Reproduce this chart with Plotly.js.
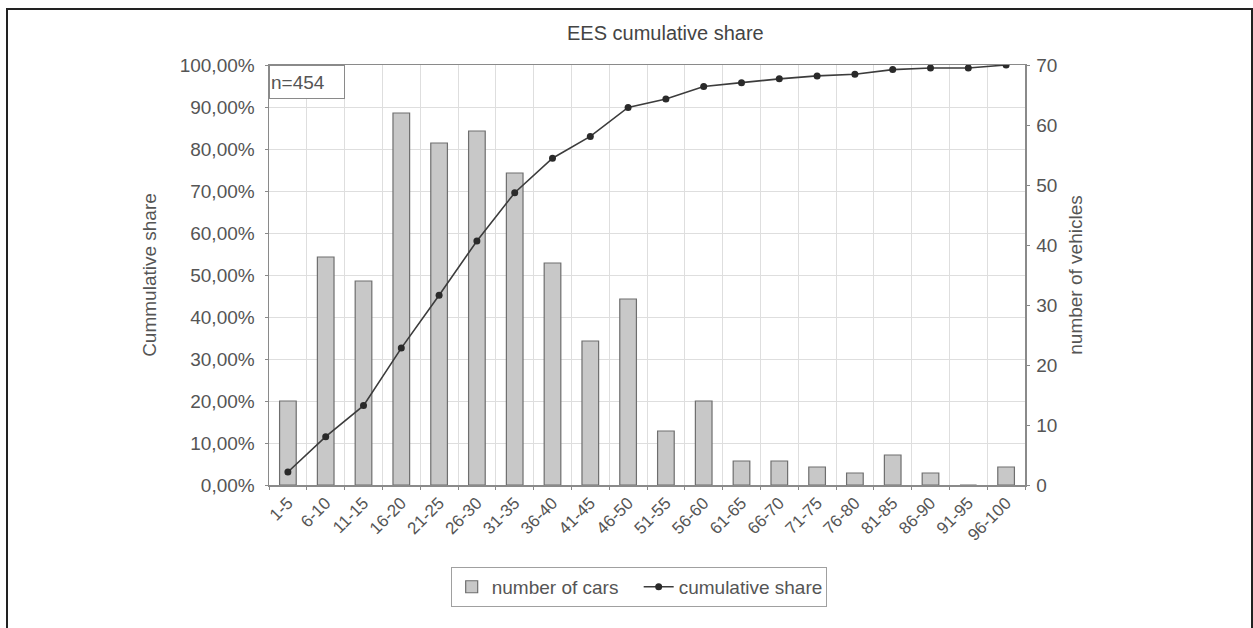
<!DOCTYPE html>
<html>
<head>
<meta charset="utf-8">
<script src="https://cdn.plot.ly/plotly-3.0.1.min.js"></script>
<style>
  html, body { margin: 0; padding: 0; background: #fff; }
  #wrap { position: relative; width: 1253px; height: 628px; overflow: hidden; }
  #chart { position: absolute; left: 0; top: 0; width: 1253px; height: 628px; }
  #frame { position: absolute; left: 6px; top: 8px; width: 1247px; height: 700px;
           box-sizing: border-box; border: 2px solid #222; border-bottom: none; pointer-events: none; }
</style>
</head>
<body>
<div id="wrap">
  <div id="chart"></div>
  <div id="frame"></div>
</div>
<script>
const categories = ["1-5","6-10","11-15","16-20","21-25","26-30","31-35","36-40","41-45","46-50",
                    "51-55","56-60","61-65","66-70","71-75","76-80","81-85","86-90","91-95","96-100"];
const numberOfCars = [14, 38, 34, 62, 57, 59, 52, 37, 24, 31, 9, 14, 4, 4, 3, 2, 5, 2, 0, 3];
const cumulativeShare = [0.031, 0.115, 0.189, 0.326, 0.452, 0.581, 0.696, 0.778, 0.830, 0.899,
                         0.919, 0.949, 0.958, 0.967, 0.974, 0.978, 0.989, 0.993, 0.993, 1.000];
const chartTitle = "EES cumulative share";
const leftTitle = "Cummulative share";
const rightTitle = "number of vehicles";
const sampleNote = "n=454";

const FONT = "Liberation Sans, Arial, sans-serif";
const TXT = "#555555";
const FS = 19;

const traces = [
  {
    type: "bar",
    name: "number of cars",
    x: categories,
    y: numberOfCars,
    xaxis: "x",
    yaxis: "y",
    width: 0.44,
    marker: { color: "#c8c8c8", line: { color: "#6e6e6e", width: 1.2 } },
    hoverinfo: "x+y"
  },
  {
    type: "scatter",
    mode: "lines+markers",
    name: "cumulative share",
    x: categories,
    y: cumulativeShare,
    xaxis: "x",
    yaxis: "y2",
    line: { color: "#3c3c3c", width: 1.6 },
    marker: { color: "#2a2a2a", size: 7, symbol: "circle" }
  }
];

const layout = {
  width: 1253,
  height: 628,
  paper_bgcolor: "rgba(0,0,0,0)",
  plot_bgcolor: "#ffffff",
  separators: ",.",
  font: { family: FONT, size: FS, color: TXT },
  margin: { l: 269, r: 228, t: 65, b: 143, pad: 0 },
  showlegend: true,
  title: {
    text: chartTitle,
    font: { family: FONT, size: 20, color: "#444" },
    xref: "container", yref: "container",
    x: 0.531, y: 0.947, xanchor: "center", yanchor: "middle"
  },
  xaxis: {
    type: "category",
    range: [-0.5, 19.5],
    autorange: false,
    tickson: "boundaries",
    showgrid: true,
    gridcolor: "#dedede",
    gridwidth: 1,
    showline: true,
    linecolor: "#8a8a8a",
    linewidth: 1.5,
    mirror: true,
    ticks: "outside",
    ticklen: 3,
    tickcolor: "#8a8a8a",
    tickangle: -45,
    tickfont: { family: FONT, size: 17, color: TXT },
    zeroline: false,
    automargin: false
  },
  yaxis: {
    side: "right",
    range: [0, 70],
    dtick: 10,
    tick0: 0,
    showgrid: false,
    zeroline: false,
    showline: true,
    linecolor: "#8a8a8a",
    linewidth: 1.5,
    ticks: "outside",
    ticklen: 3,
    tickcolor: "#8a8a8a",
    ticklabelstandoff: 3,
    tickfont: { family: FONT, size: FS, color: TXT },
    title: { text: rightTitle, font: { family: FONT, size: FS, color: TXT }, standoff: 12 },
    automargin: false
  },
  yaxis2: {
    overlaying: "y",
    side: "left",
    range: [0, 1],
    dtick: 0.1,
    tick0: 0,
    tickformat: ".2%",
    showgrid: true,
    gridcolor: "#dedede",
    gridwidth: 1,
    zeroline: false,
    showline: true,
    linecolor: "#8a8a8a",
    linewidth: 1.5,
    ticks: "outside",
    ticklen: 3,
    tickcolor: "#8a8a8a",
    ticklabelstandoff: 6,
    tickfont: { family: FONT, size: FS, color: TXT },
    title: { text: leftTitle, font: { family: FONT, size: FS, color: TXT }, standoff: 18 },
    automargin: false
  },
  legend: {
    orientation: "h",
    x: 0.489, xanchor: "center",
    y: -0.195, yanchor: "top",
    entrywidth: 142,
    entrywidthmode: "pixels",
    bgcolor: "#ffffff",
    bordercolor: "#a0a0a0",
    borderwidth: 1,
    font: { family: FONT, size: FS, color: TXT },
    traceorder: "normal"
  },
  annotations: [
    {
      text: sampleNote,
      xref: "paper", yref: "paper",
      x: 0, y: 1, xanchor: "left", yanchor: "top",
      showarrow: false,
      align: "left",
      width: 72, height: 30,
      bgcolor: "#ffffff",
      bordercolor: "#8a8a8a",
      borderwidth: 1,
      borderpad: 1,
      font: { family: FONT, size: FS, color: TXT }
    }
  ]
};

Plotly.newPlot("chart", traces, layout, { staticPlot: true, displayModeBar: false });
</script>
</body>
</html>
